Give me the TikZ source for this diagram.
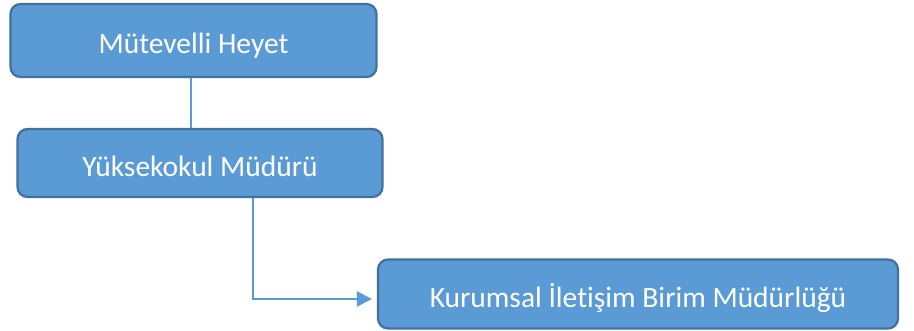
\documentclass[tikz,border=0pt]{standalone}
\usepackage{fontspec}
\setmainfont[Ligatures=NoCommon]{Carlito}
\usetikzlibrary{arrows.meta}
\definecolor{boxfill}{HTML}{5B9BD5}
\definecolor{boxline}{HTML}{41719C}
\begin{document}
\begin{tikzpicture}[x=1pt,y=-1pt]
	\tikzset{unit/.style={draw=boxline,line width=2.2pt,fill=boxfill,rounded corners=10pt,
		text=white,font=\fontsize{29.5}{34}\selectfont,inner sep=0pt,text height=30pt,text depth=3pt}}
	\useasboundingbox[fill=white](0,0)rectangle(914,331);
	\node(mh)[unit,minimum width=366pt,minimum height=73pt]at(193.5,40.5){Mütevelli Heyet};
	\node(ym)[unit,minimum width=365pt,minimum height=68pt]at(200,163){Yüksekokul Müdürü};
	\node(kb)[unit,minimum width=520pt,minimum height=69pt]at(638,294){Kurumsal İletişim Birim Müdürlüğü};
	\tikzset{every path/.style={draw=boxfill,line width=2.4pt}}
	\draw([xshift=-2.5pt]mh.south)--([xshift=-2.5pt]mh.south|-ym.north);
	\draw[-{Triangle[length=15pt,width=15pt]},shorten >=5pt]([xshift=53pt]ym.south)|-([yshift=-5pt]kb.west);
\end{tikzpicture}
\end{document}
